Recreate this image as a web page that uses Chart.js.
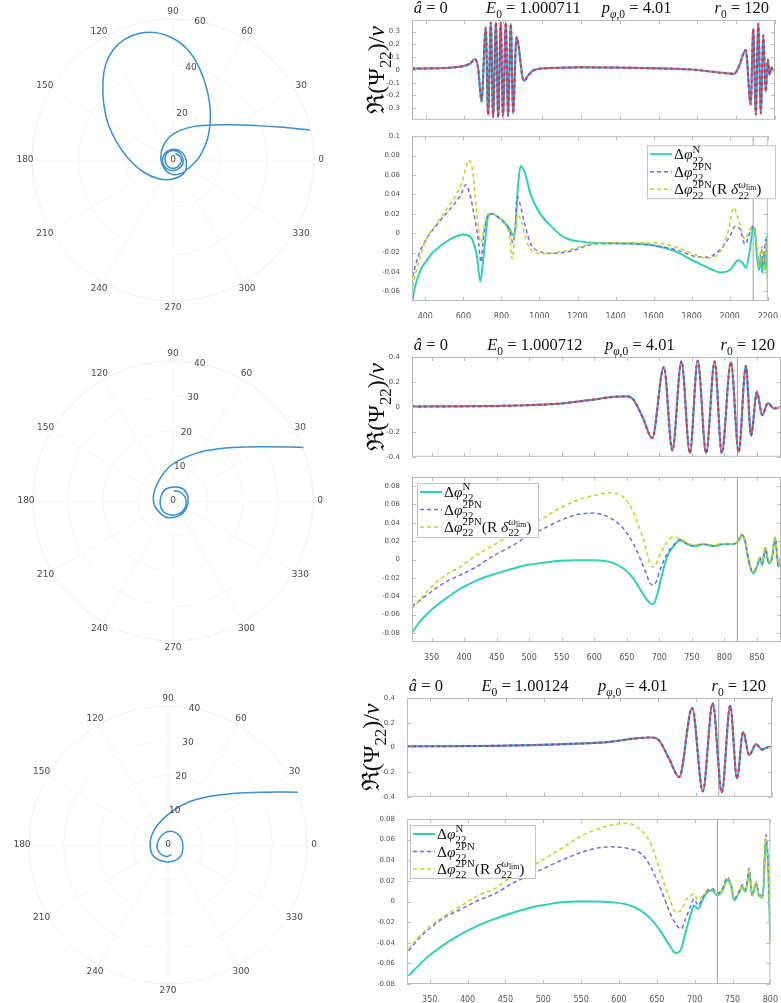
<!DOCTYPE html><html lang="en">
<head>
<meta charset="utf-8"/>
<title>Orbits, waveforms and phase differences</title>
<script src="https://cdn.jsdelivr.net/npm/chart.js"></script>
<style>
  body{margin:0;background:#fff;width:781px;height:1003px;position:relative;overflow:hidden}
  canvas{position:absolute}
</style>
</head>
<body>
<canvas id="orb1" width="345" height="330" style="left:0;top:0"></canvas>
<canvas id="orb2" width="345" height="330" style="left:0;top:330px"></canvas>
<canvas id="orb3" width="345" height="343" style="left:0;top:660px"></canvas>
<canvas id="wave1" width="426" height="128" style="left:355px;top:0"></canvas>
<canvas id="phase1" width="426" height="190" style="left:355px;top:128px"></canvas>
<canvas id="wave2" width="426" height="135" style="left:355px;top:330px"></canvas>
<canvas id="phase2" width="426" height="195" style="left:355px;top:465px"></canvas>
<canvas id="wave3" width="426" height="145" style="left:355px;top:660px"></canvas>
<canvas id="phase3" width="426" height="198" style="left:355px;top:805px"></canvas>
<script>
// ---------- orbits (x, y in units of M) ----------
const orb1X = [58.2,46.8,32.6,22.7,15.6,8.5,2.8,-1.4,-4.3,-5.2,-3.8,-0.7,3.5,7.4,11.3,14.9,15.9,14.5,11.3,6.4,0,-7.1,-14.2,-20.6,-25.5,-28.7,-29.8,-29.5,-27.7,-24.1,-19.1,-12.8,-5.7,0,4.3,5.7,5.1,2.8,-0.7,-3.5,-4.5,-2.8,0.3,3.5,4.3,2.8,-0.3,-2.8,-3.4,-2.1,0.7,3.1,3.3,1.1];
const orb1Y = [12.8,13.9,14.8,15.0,14.9,14.2,12.5,9.9,5.7,0.7,-3.5,-6.0,-5.7,-2.8,1.4,9.9,19.9,29.8,39.0,46.8,51.8,54.2,53.9,51.3,46.8,40.4,32.6,24.1,15.6,7.8,0.7,-5.0,-8.1,-8.1,-6.0,-2.8,1.4,4.0,4.5,2.8,-0.7,-3.5,-4.5,-2.8,0.3,3.1,4.0,2.6,-0.3,-2.8,-3.5,-1.7,1.1,2.8];
const orb2X = [37.3,26.8,17.2,9.6,3.8,-1.0,-4.0,-5.5,-5.3,-3.3,-1.0,1.9,3.8,4.3,3.3,1.0,-1.9,-3.5,-3.5,-1.9,1.0,3.3,3.6,1.9,0.2];
const orb2Y = [15.3,15.5,15.3,14.4,12.6,9.8,5.9,2.1,-1.2,-3.8,-4.8,-4.1,-2.2,0.7,3.1,4.0,3.5,1.1,-1.7,-3.6,-3.9,-2.2,0.7,2.6,2.9];
const orb3X = [37.3,28.4,18.8,11.1,5.3,0.5,-2.9,-4.8,-5.1,-4.1,-1.4,1.4,3.6,4.3,3.8,1.9,-0.5,-2.4,-3.2,-2.4,-0.5,1.0];
const orb3Y = [15.2,15.2,14.8,13.8,12.1,9.2,5.9,2.5,-0.9,-3.3,-4.7,-4.7,-3.3,-0.9,2.0,3.7,3.7,2.0,-0.4,-2.3,-3.3,-2.8];
const angLabels = [0,30,60,90,120,150,180,210,240,270,300,330];
const rTicks1 = [0,20,40,60];
const rTicks23 = [0,10,20,30,40];

// ---------- waveforms Re(Psi22)/nu ----------
const wf1X = [330,420,500,560,600,630,654,671,688,710,722,736,748,762,774,787,799,813,825,839,851,868,906,930,960,1050,1200,1400,1600,1774,1880,1946,1989,2015,2049,2075,2088,2101,2114,2127,2140,2152,2163,2172,2181,2190,2200];
const wf1Y = [0.01,0.012,0.015,0.022,0.032,0.05,0.085,0.01,-0.245,0.33,-0.35,0.37,-0.37,0.37,-0.37,0.37,-0.365,0.37,-0.36,0.36,-0.34,0.255,-0.085,-0.04,0.0,0.015,0.02,0.018,0.012,0.003,-0.015,-0.026,-0.031,0.03,0.155,-0.27,0.32,-0.35,0.36,-0.34,0.27,-0.17,0.08,-0.04,0.02,-0.005,0];
const wf2X = [320,394,471,548,599,629,650,660,675,689,707,720,734,747,759,772,785,796,810,822,833,841,850,858,867,876,887];
const wf2Y = [0.003,0.005,0.01,0.027,0.059,0.08,0.085,0.06,-0.09,-0.25,0.32,-0.35,0.365,-0.37,0.37,-0.37,0.365,-0.37,0.36,-0.36,0.33,-0.23,0.12,-0.065,0.03,-0.012,0];
const wf3X = [320,436,524,590,620,642,651,664,678,695,709,722,734,745,754,762,770,779,787,796,800];
const wf3Y = [0.008,0.013,0.026,0.047,0.073,0.08,0.06,-0.083,-0.24,0.32,-0.356,0.358,-0.364,0.338,-0.252,0.125,-0.062,0.026,-0.018,0.003,0];

// ---------- phase differences ----------
const dN1X = [332,345,362,380,405,430,457,508,560,594,620,646,671,689,706,731,749,783,817,843,860,872,886,900,920,955,998,1058,1127,1230,1367,1504,1607,1711,1814,1900,1951,2002,2045,2068,2085,2106,2123,2131,2143,2154,2162,2171,2179,2188,2195,2200];
const dN1Y = [-0.07,-0.056,-0.045,-0.036,-0.029,-0.022,-0.0168,-0.0091,-0.0035,-0.0014,-0.002,-0.0063,-0.0238,-0.05,-0.024,0.018,0.02,0.0165,0.011,0.0042,-0.002,0.0025,0.046,0.069,0.064,0.039,0.0217,0.0077,-0.004,-0.009,-0.0105,-0.011,-0.013,-0.0186,-0.029,-0.037,-0.0406,-0.0378,-0.028,-0.0308,-0.036,-0.0168,0.006,0.004,-0.024,-0.038,-0.024,-0.041,-0.02,-0.038,-0.003,-0.048];
const dP1X = [333,362,405,457,508,560,594,611,628,654,680,692,706,731,749,783,817,843,860,872,883,895,920,955,998,1058,1161,1298,1435,1573,1711,1814,1882,1951,2002,2028,2054,2080,2106,2123,2140,2154,2166,2178,2188,2197];
const dP1Y = [-0.045,-0.024,-0.0063,0.0077,0.02,0.032,0.0427,0.05,0.0445,0.0217,-0.0098,-0.03,-0.003,0.019,0.02,0.0165,0.0095,0.0025,-0.0098,0.0042,0.0375,0.032,0.011,-0.0116,-0.0186,-0.021,-0.0186,-0.011,-0.0105,-0.012,-0.0168,-0.0238,-0.0249,-0.0168,-0.0028,0.007,0.0042,-0.0116,0.0007,0.0077,-0.0098,-0.0308,-0.0168,-0.034,-0.0063,-0.027];
const dR1X = [333,354,379,405,457,508,560,594,628,649,666,680,692,706,731,749,783,817,843,857,869,883,900,929,963,1023,1127,1264,1435,1573,1711,1814,1882,1951,1994,2020,2045,2080,2106,2123,2140,2154,2168,2182,2192,2200];
const dR1Y = [-0.0553,-0.0378,-0.0203,-0.0063,0.0095,0.0235,0.039,0.053,0.075,0.0637,0.0287,0.0042,-0.01,0.0042,0.02,0.02,0.0165,0.0095,-0.0028,-0.0266,-0.0063,0.0189,0.0147,-0.0063,-0.0186,-0.021,-0.0186,-0.0116,-0.0098,-0.0098,-0.014,-0.022,-0.0256,-0.0186,0.0042,0.0262,0.0147,-0.0063,0.0042,0.006,-0.0098,-0.034,-0.0133,-0.038,-0.0098,-0.062];

const dN2X = [320,332,353,373,394,419,445,471,496,522,548,573,599,625,645,660,676,686,691,696,704,712,722,732,743,753,768,783,799,814,822,827,832,837,844,850,855,858,863,868,873,878,883,887];
const dN2Y = [-0.08,-0.068,-0.053,-0.042,-0.032,-0.023,-0.0163,-0.0109,-0.0061,-0.0036,-0.0014,-0.0007,-0.0007,-0.0029,-0.0098,-0.0206,-0.0387,-0.0477,-0.0485,-0.0405,-0.017,0.0029,0.0145,0.021,0.0166,0.0145,0.0166,0.0145,0.0166,0.0166,0.021,0.0264,0.0192,-0.0007,-0.0152,-0.008,0.0011,-0.006,0.012,-0.0043,0.0011,0.0228,-0.008,0.003];
const dP2X = [320,343,368,394,419,445,471,496,522,548,573,599,625,645,660,676,689,694,702,712,722,732,743,753,768,783,799,814,822,827,832,837,844,850,855,858,863,868,873,878,883,887];
const dP2Y = [-0.051,-0.0387,-0.026,-0.017,-0.008,0.004,0.0137,0.0246,0.0336,0.0427,0.0488,0.0506,0.0452,0.0336,0.0174,-0.008,-0.0278,-0.026,-0.0098,0.0065,0.0156,0.0217,0.0172,0.0152,0.017,0.015,0.0172,0.0168,0.0215,0.027,0.02,0.0005,-0.014,-0.007,0.002,-0.005,0.013,-0.003,0.002,0.024,-0.007,0.004];
const dR2Y = [-0.054,-0.035,-0.0188,-0.008,0.0047,0.0156,0.0264,0.0354,0.0452,0.0564,0.0644,0.0698,0.0727,0.068,0.0517,0.021,-0.008,-0.006,0.0065,0.0192,0.0246,0.0228,0.018,0.016,0.0175,0.016,0.0175,0.017,0.022,0.028,0.021,0.0015,-0.013,-0.006,0.003,-0.004,0.014,-0.002,0.003,0.025,-0.006,0.005];

const d3X = [322,335,349,370,392,414,436,458,480,502,524,546,568,590,612,629,642,656,667,675,682,688,695,699,705,710,717,724,730,737,743,748,752,758,763,767,772,776,781,785,790,794,797,800];
const dN3Y = [-0.072,-0.0624,-0.0527,-0.0413,-0.0315,-0.0234,-0.0169,-0.0114,-0.0065,-0.0033,-0.0007,0,0,-0.0007,-0.0033,-0.0088,-0.0169,-0.0299,-0.0429,-0.05,-0.0462,-0.0299,-0.012,-0.0039,-0.0072,0.001,0.0091,0.0107,0.0059,0.0107,0.0205,0.0156,0.001,0.0075,0.014,0.0091,0.027,0.0059,0.0172,0.0059,0.004,0.0595,0.035,-0.04];
const dP3Y = [-0.0478,-0.0364,-0.0267,-0.0153,-0.0072,0.001,0.0075,0.0172,0.0247,0.0325,0.04,0.0465,0.0514,0.053,0.0514,0.0465,0.0335,0.0107,-0.0104,-0.0218,-0.0267,-0.0169,-0.0039,0.0026,-0.004,0.003,0.011,0.0125,0.008,0.013,0.0235,0.017,0.003,0.009,0.016,0.011,0.032,0.007,0.019,0.007,0.006,0.065,0.038,-0.035];
const dR3Y = [-0.046,-0.0348,-0.025,-0.0137,-0.0039,0.0059,0.0124,0.0237,0.0319,0.0416,0.0514,0.0618,0.0692,0.0741,0.0757,0.0692,0.0562,0.0254,0.0026,-0.0104,-0.0088,0.001,0.0059,0.0075,0.001,0.005,0.01,0.012,0.007,0.012,0.022,0.016,0.002,0.008,0.015,0.01,0.03,0.006,0.018,0.006,0.005,0.062,0.036,-0.038];

// vertical marker lines (x position)
const vline1 = [2123];
const vline2 = [820];
const vline3 = [730];

// ---------- ticks ----------
const xTicks1 = [400,600,800,1000,1200,1400,1600,1800,2000,2200];
const xTicks2 = [350,400,450,500,550,600,650,700,750,800,850];
const xTicks3 = [350,400,450,500,550,600,650,700,750,800];
const yTicksW1 = [-0.3,-0.2,-0.1,0,0.1,0.2,0.3];
const yTicksW = [-0.4,-0.2,0,0.2,0.4];
const yTicksP1 = [-0.06,-0.04,-0.02,0,0.02,0.04,0.06,0.08,0.1];
const yTicksP = [-0.08,-0.06,-0.04,-0.02,0,0.02,0.04,0.06,0.08];

// ---------- header texts ----------
const energies = ['1.000711','1.000712','1.00124'];

// ---------- styling ----------
const SERIF = '"Liberation Serif","DejaVu Serif",serif';
const XFONT = {family:'"DejaVu Sans",sans-serif', size:8};
const YFONT = {family:'"DejaVu Sans",sans-serif', size:7};
const C_TEAL='#30d0b2', C_PURP='#6e6cf0', C_YEL='#c3d322', C_BLUE='#3a9ae6', C_RED='#e4323c', C_ORB='#3a8fd2';

const pts = (xs, ys) => xs.map((x, i) => ({x, y: ys[i]}));

// draw a small piece of math: segments {t, i(talic), sub, sup, tiny, back, after}
function drawMath(ctx, segs, x, y, size, align){
  const items = []; let cx = 0, prevStart = 0, prevEnd = 0;
  for (const s of segs){
    const fs = (s.sub || s.sup) ? size*0.7 : s.tiny ? size*0.5 : size;
    const font = (s.i ? 'italic ' : '') + fs.toFixed(1) + 'px ' + SERIF;
    ctx.font = font;
    const w = ctx.measureText(s.t).width;
    const start = s.back ? prevStart : s.after ? prevEnd : cx;
    const dy = s.sub ? size*0.28 : s.sup ? -size*0.42 : s.tiny ? -size*0.3 : 0;
    items.push({t: s.t, font, x: start, dy});
    prevStart = start; prevEnd = start + w;
    cx = Math.max(cx, start + w);
  }
  const off = align === 'center' ? -cx/2 : align === 'right' ? -cx : 0;
  ctx.textAlign = 'left'; ctx.textBaseline = 'alphabetic';
  items.forEach(it => { ctx.font = it.font; ctx.fillText(it.t, x + off + it.x, y + it.dy); });
}

// box, inward ticks, header, y label and legend for the cartesian panels
const framePlugin = {
  id: 'frame',
  afterDatasetsDraw(chart, args, o){
    if (!o || !o.on) return;
    const {ctx, chartArea: a, scales} = chart;
    ctx.save();
    ctx.strokeStyle = '#bcbcbc'; ctx.lineWidth = 1;
    ctx.strokeRect(a.left + 0.5, a.top + 0.5, a.width - 1, a.height - 1);
    ctx.beginPath();
    scales.x.ticks.forEach(t => {
      const p = Math.round(scales.x.getPixelForValue(t.value)) + 0.5;
      ctx.moveTo(p, a.bottom); ctx.lineTo(p, a.bottom - 4);
      ctx.moveTo(p, a.top); ctx.lineTo(p, a.top + 4);
    });
    scales.y.ticks.forEach(t => {
      const p = Math.round(scales.y.getPixelForValue(t.value)) + 0.5;
      ctx.moveTo(a.left, p); ctx.lineTo(a.left + 4, p);
      ctx.moveTo(a.right, p); ctx.lineTo(a.right - 4, p);
    });
    ctx.stroke();
    ctx.fillStyle = '#111';
    if (o.header){
      const fr = [0.005, 0.204, 0.523];
      o.header.forEach((segs, i) => {
        if (i < 3) drawMath(ctx, segs, a.left + fr[i]*a.width, a.top - 7, 16.5, 'left');
        else drawMath(ctx, segs, a.right - 6, a.top - 7, 16.5, 'right');
      });
    }
    if (o.ylabel){
      ctx.save();
      ctx.translate(a.left - 36, (a.top + a.bottom)/2);
      ctx.rotate(-Math.PI/2);
      drawMath(ctx, o.ylabel, 0, 8, 24, 'center');
      ctx.restore();
    }
    if (o.legend){
      const L = o.legend, bx = a.left + L.x, by = a.top + L.y;
      ctx.fillStyle = '#fff';
      ctx.fillRect(bx, by, L.w, L.h);
      ctx.strokeStyle = '#c4c4c4';
      ctx.strokeRect(bx + 0.5, by + 0.5, L.w, L.h);
      L.labels.forEach((segs, i) => {
        const ds = chart.data.datasets[i];
        const yy = by + 9 + i*17.5;
        ctx.strokeStyle = ds.borderColor; ctx.lineWidth = ds.borderWidth;
        ctx.setLineDash(ds.borderDash || []);
        ctx.beginPath(); ctx.moveTo(bx + 3, yy); ctx.lineTo(bx + 25, yy); ctx.stroke();
        ctx.setLineDash([]);
        ctx.fillStyle = '#111';
        drawMath(ctx, segs, bx + 27, yy + 5, 15.5, 'left');
      });
    }
    ctx.restore();
  }
};

// faint polar grid and labels drawn through the x/y scales
const polarPlugin = {
  id: 'polar',
  beforeDatasetsDraw(chart, args, o){
    if (!o || !o.rmax) return;
    const {ctx, scales: {x, y}} = chart;
    const cx = x.getPixelForValue(0), cy = y.getPixelForValue(0), k = x.getPixelForValue(1) - cx;
    const R = o.rmax * k;
    ctx.save();
    ctx.strokeStyle = '#f6f6f6'; ctx.lineWidth = 1;
    o.rTicks.forEach(r => { if (r > 0){ ctx.beginPath(); ctx.arc(cx, cy, r*k, 0, 2*Math.PI); ctx.stroke(); } });
    angLabels.forEach(a => {
      const t = a*Math.PI/180;
      ctx.beginPath(); ctx.moveTo(cx, cy); ctx.lineTo(cx + R*Math.cos(t), cy - R*Math.sin(t)); ctx.stroke();
    });
    ctx.strokeStyle = '#f0f0f0';
    ctx.beginPath(); ctx.arc(cx, cy, R, 0, 2*Math.PI); ctx.stroke();
    ctx.restore();
  },
  afterDatasetsDraw(chart, args, o){
    if (!o || !o.rmax) return;
    const {ctx, scales: {x, y}} = chart;
    const cx = x.getPixelForValue(0), cy = y.getPixelForValue(0), k = x.getPixelForValue(1) - cx;
    const R = o.rmax * k;
    ctx.save();
    ctx.font = '9px "DejaVu Sans",sans-serif';
    ctx.fillStyle = '#4a4a4a'; ctx.textAlign = 'center'; ctx.textBaseline = 'middle';
    angLabels.forEach(a => {
      const t = a*Math.PI/180;
      ctx.fillText(String(a), cx + (R + 7)*Math.cos(t), cy - (R + 7)*Math.sin(t));
    });
    const ra = 79*Math.PI/180;
    o.rTicks.forEach(r => ctx.fillText(String(r), cx + r*k*Math.cos(ra), cy - r*k*Math.sin(ra)));
    ctx.restore();
  }
};
Chart.register(framePlugin, polarPlugin);

function polarChart(id, xs, ys, rmax, rTicks, pad){
  return new Chart(document.getElementById(id), {
    type: 'scatter',
    data: {datasets: [{data: pts(xs, ys), showLine: true, borderColor: C_ORB, borderWidth: 1.5, pointRadius: 0, tension: 0.4, clip: false}]},
    options: {
      responsive: false, animation: false,
      layout: {padding: pad, autoPadding: false},
      scales: {
        x: {type: 'linear', display: false, min: -rmax, max: rmax},
        y: {type: 'linear', display: false, min: -rmax, max: rmax}
      },
      plugins: {legend: {display: false}, tooltip: {enabled: false}, polar: {rmax, rTicks}}
    }
  });
}

function axis(min, max, ticks, showLabels, size, dim){
  return {
    type: 'linear', min, max,
    grid: {display: false}, border: {display: false},
    afterBuildTicks: s => { s.ticks = ticks.map(v => ({value: v})); },
    afterFit: s => { if (dim === 'w') s.width = size; else s.height = size; },
    ticks: {display: showLabels, font: dim === 'w' ? YFONT : XFONT, color: '#555', padding: dim === 'w' ? 4 : 3,
            autoSkip: false, maxRotation: 0, callback: v => String(v)}
  };
}

function vlineSet(xv, ymin, ymax){
  return xv.map(v => ({data: [{x: v, y: ymin}, {x: v, y: ymax}], showLine: true, borderColor: '#a0a0a0', borderWidth: 1, pointRadius: 0, order: 10}));
}

function header(E){
  return [
    [{t:'â', i:1}, {t:' = 0'}],
    [{t:'E', i:1}, {t:'0', sub:1}, {t:' = ' + E}],
    [{t:'p', i:1}, {t:'φ', sub:1, i:1}, {t:',0', sub:1}, {t:' = 4.01'}],
    [{t:'r', i:1}, {t:'0', sub:1}, {t:' = 120'}]
  ];
}
const ylab = [{t:'ℜ'}, {t:'(Ψ'}, {t:'22', sub:1}, {t:')/'}, {t:'ν', i:1}];
const legendLabels = [
  [{t:'Δ'}, {t:'φ', i:1}, {t:'22', sub:1}, {t:'N', sup:1, back:1}],
  [{t:'Δ'}, {t:'φ', i:1}, {t:'22', sub:1}, {t:'2PN', sup:1, back:1}],
  [{t:'Δ'}, {t:'φ', i:1}, {t:'22', sub:1}, {t:'2PN', sup:1, back:1}, {t:'(R '}, {t:'δ', i:1}, {t:'22', sub:1}, {t:'ω', sup:1, back:1, i:1}, {t:'lim', tiny:1, after:1}, {t:')'}]
];

function waveChart(id, xs, ys, xmin, xmax, xt, ymin, ymax, yt, yw, xh, pad, E, vl){
  const sets = [
    {data: pts(xs, ys), showLine: true, borderColor: C_RED, borderWidth: 2, borderDash: [3, 3], pointRadius: 0, cubicInterpolationMode: 'monotone', order: 1},
    {data: pts(xs, ys), showLine: true, borderColor: C_BLUE, borderWidth: 2.2, pointRadius: 0, cubicInterpolationMode: 'monotone', order: 2}
  ].concat(vlineSet(vl, ymin, ymax));
  return new Chart(document.getElementById(id), {
    type: 'scatter',
    data: {datasets: sets},
    options: {
      responsive: false, animation: false,
      layout: {padding: pad, autoPadding: false},
      scales: {x: axis(xmin, xmax, xt, false, xh, 'h'), y: axis(ymin, ymax, yt, true, yw, 'w')},
      plugins: {legend: {display: false}, tooltip: {enabled: false},
                frame: {on: true, header: header(E), ylabel: ylab}}
    }
  });
}

function phaseChart(id, nX, nY, pX, pY, rX, rY, xmin, xmax, xt, ymin, ymax, yt, yw, xh, pad, leg, vl){
  const base = {showLine: true, pointRadius: 0, cubicInterpolationMode: 'monotone'};
  const sets = [
    Object.assign({data: pts(nX, nY), borderColor: C_TEAL, borderWidth: 2, order: 3}, base),
    Object.assign({data: pts(pX, pY), borderColor: C_PURP, borderWidth: 1.5, borderDash: [4, 3], order: 2}, base),
    Object.assign({data: pts(rX, rY), borderColor: C_YEL, borderWidth: 1.5, borderDash: [4, 3], order: 1}, base)
  ].concat(vlineSet(vl, ymin, ymax));
  return new Chart(document.getElementById(id), {
    type: 'scatter',
    data: {datasets: sets},
    options: {
      responsive: false, animation: false,
      layout: {padding: pad, autoPadding: false},
      scales: {x: axis(xmin, xmax, xt, true, xh, 'h'), y: axis(ymin, ymax, yt, true, yw, 'w')},
      plugins: {legend: {display: false}, tooltip: {enabled: false},
                frame: {on: true, legend: Object.assign({labels: legendLabels}, leg)}}
    }
  });
}

polarChart('orb1', orb1X, orb1Y, 60, rTicks1, {left: 32, top: 19, right: 31, bottom: 29});
polarChart('orb2', orb2X, orb2Y, 40, rTicks23, {left: 33, top: 31, right: 32, bottom: 19});
polarChart('orb3', orb3X, orb3Y, 40, rTicks23, {left: 29, top: 46, right: 38, bottom: 19});

waveChart('wave1', wf1X, wf1Y, 330, 2200, xTicks1, -0.39, 0.39, yTicksW1, 57, 6, {top: 20, right: 6}, energies[0], []);
phaseChart('phase1', dN1X, dN1Y, dP1X, dP1Y, dR1X, dR1Y, 330, 2200, xTicks1, -0.07, 0.1, yTicksP1, 57, 17, {top: 8, right: 6},
           {x: 235, y: 9, w: 128, h: 53}, vline1);

waveChart('wave2', wf2X, wf2Y, 320, 887, xTicks2, -0.4, 0.4, yTicksW, 57, 6, {top: 27, right: 0}, energies[1], vline2);
phaseChart('phase2', dN2X, dN2Y, dP2X, dP2Y, dP2X, dR2Y, 320, 887, xTicks2, -0.09, 0.09, yTicksP, 57, 18, {top: 12, right: 0},
           {x: 5, y: 6, w: 121, h: 54}, vline2);

waveChart('wave3', wf3X, wf3Y, 320, 800, xTicks3, -0.4, 0.4, yTicksW, 52, 7, {top: 38, right: 9}, energies[2], vline3);
phaseChart('phase3', d3X, dN3Y, d3X, dP3Y, d3X, dR3Y, 320, 800, xTicks3, -0.08, 0.08, yTicksP, 52, 19, {top: 14, right: 9},
           {x: 3, y: 6, w: 125, h: 53}, vline3);
</script>
</body>
</html>
